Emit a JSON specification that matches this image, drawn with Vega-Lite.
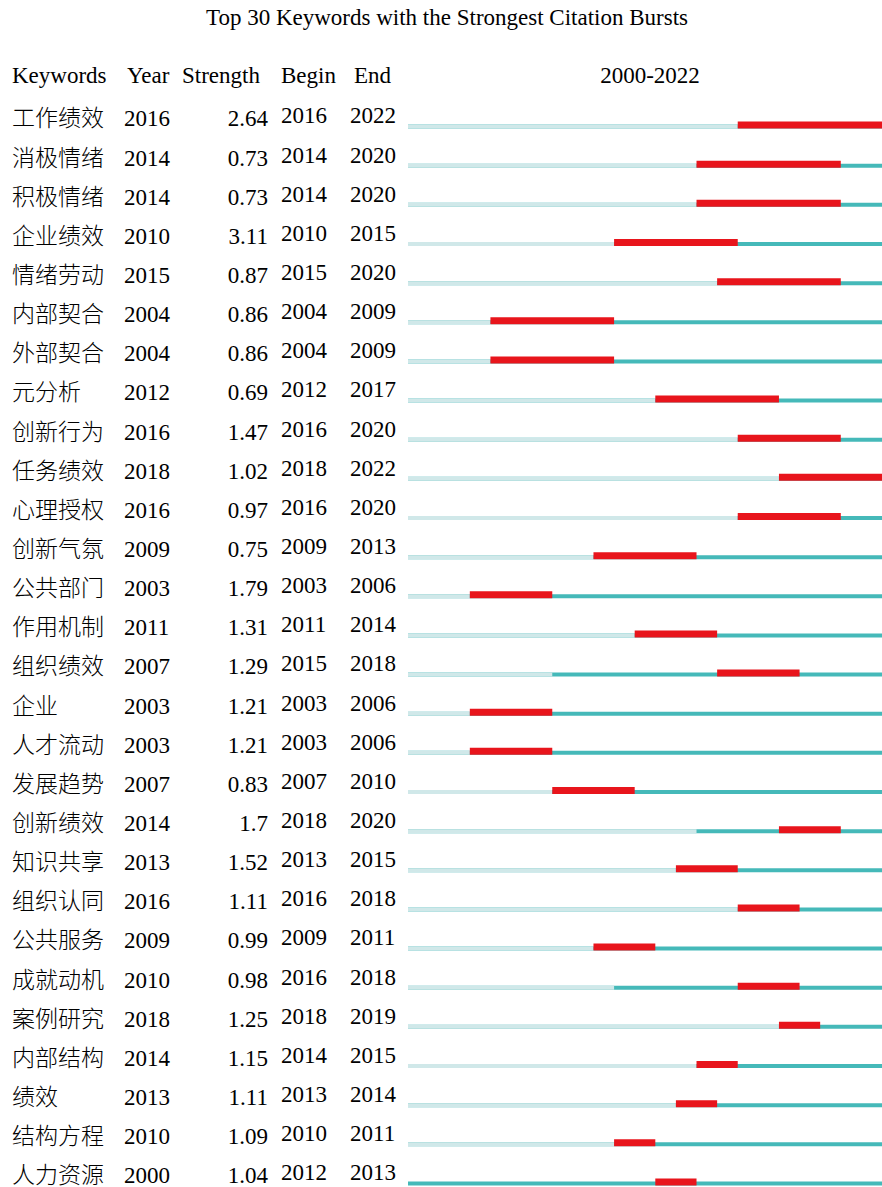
{
  "$schema": "https://vega.github.io/schema/vega-lite/v6.json",
  "padding": {"left": 12, "top": 7, "right": 0, "bottom": 0},
  "background": "white",
  "bounds": "flush",
  "title": {"text": "Top 30 Keywords with the Strongest Citation Bursts", "fontSize": 23, "font": "Liberation Serif", "fontWeight": "normal", "color": "#000000", "offset": 35, "anchor": "middle"},
  "data": {"values": [
    {"kw": "工作绩效", "year": 2016, "strength": "2.64", "begin": 2016, "end": 2022},
    {"kw": "消极情绪", "year": 2014, "strength": "0.73", "begin": 2014, "end": 2020},
    {"kw": "积极情绪", "year": 2014, "strength": "0.73", "begin": 2014, "end": 2020},
    {"kw": "企业绩效", "year": 2010, "strength": "3.11", "begin": 2010, "end": 2015},
    {"kw": "情绪劳动", "year": 2015, "strength": "0.87", "begin": 2015, "end": 2020},
    {"kw": "内部契合", "year": 2004, "strength": "0.86", "begin": 2004, "end": 2009},
    {"kw": "外部契合", "year": 2004, "strength": "0.86", "begin": 2004, "end": 2009},
    {"kw": "元分析", "year": 2012, "strength": "0.69", "begin": 2012, "end": 2017},
    {"kw": "创新行为", "year": 2016, "strength": "1.47", "begin": 2016, "end": 2020},
    {"kw": "任务绩效", "year": 2018, "strength": "1.02", "begin": 2018, "end": 2022},
    {"kw": "心理授权", "year": 2016, "strength": "0.97", "begin": 2016, "end": 2020},
    {"kw": "创新气氛", "year": 2009, "strength": "0.75", "begin": 2009, "end": 2013},
    {"kw": "公共部门", "year": 2003, "strength": "1.79", "begin": 2003, "end": 2006},
    {"kw": "作用机制", "year": 2011, "strength": "1.31", "begin": 2011, "end": 2014},
    {"kw": "组织绩效", "year": 2007, "strength": "1.29", "begin": 2015, "end": 2018},
    {"kw": "企业", "year": 2003, "strength": "1.21", "begin": 2003, "end": 2006},
    {"kw": "人才流动", "year": 2003, "strength": "1.21", "begin": 2003, "end": 2006},
    {"kw": "发展趋势", "year": 2007, "strength": "0.83", "begin": 2007, "end": 2010},
    {"kw": "创新绩效", "year": 2014, "strength": "1.7", "begin": 2018, "end": 2020},
    {"kw": "知识共享", "year": 2013, "strength": "1.52", "begin": 2013, "end": 2015},
    {"kw": "组织认同", "year": 2016, "strength": "1.11", "begin": 2016, "end": 2018},
    {"kw": "公共服务", "year": 2009, "strength": "0.99", "begin": 2009, "end": 2011},
    {"kw": "成就动机", "year": 2010, "strength": "0.98", "begin": 2016, "end": 2018},
    {"kw": "案例研究", "year": 2018, "strength": "1.25", "begin": 2018, "end": 2019},
    {"kw": "内部结构", "year": 2014, "strength": "1.15", "begin": 2014, "end": 2015},
    {"kw": "绩效", "year": 2013, "strength": "1.11", "begin": 2013, "end": 2014},
    {"kw": "结构方程", "year": 2010, "strength": "1.09", "begin": 2010, "end": 2011},
    {"kw": "人力资源", "year": 2000, "strength": "1.04", "begin": 2012, "end": 2013}
  ]},
  "spacing": 0,
  "hconcat": [
    {
      "width": 112, "height": 1096,
      "title": {"text": "Keywords", "anchor": "start"},
      "mark": {"type": "text", "align": "left", "baseline": "middle", "fontSize": 23, "fontWeight": 300, "x": 0},
      "encoding": {
        "y": {"field": "kw", "type": "nominal", "sort": null, "axis": null, "bandPosition": 0.7, "scale": {"type": "band", "paddingInner": 0, "paddingOuter": 0}},
        "text": {"field": "kw", "type": "nominal"}
      }
    },
    {
      "width": 58, "height": 1096,
      "title": {"text": "Year", "anchor": "start", "dx": 3},
      "mark": {"type": "text", "align": "left", "baseline": "middle", "fontSize": 23, "x": 0},
      "encoding": {
        "y": {"field": "kw", "type": "nominal", "sort": null, "axis": null, "bandPosition": 0.7, "scale": {"type": "band", "paddingInner": 0, "paddingOuter": 0}},
        "text": {"field": "year", "type": "nominal"}
      }
    },
    {
      "width": 98, "height": 1096,
      "title": {"text": "Strength", "anchor": "start"},
      "mark": {"type": "text", "align": "right", "baseline": "middle", "fontSize": 23, "x": 0, "dx": 86},
      "encoding": {
        "y": {"field": "kw", "type": "nominal", "sort": null, "axis": null, "bandPosition": 0.7, "scale": {"type": "band", "paddingInner": 0, "paddingOuter": 0}},
        "text": {"field": "strength", "type": "nominal"}
      }
    },
    {
      "width": 70, "height": 1096,
      "title": {"text": "Begin", "anchor": "start", "dx": 1},
      "mark": {"type": "text", "align": "left", "baseline": "middle", "fontSize": 23, "x": 0, "dx": 1, "dy": -3},
      "encoding": {
        "y": {"field": "kw", "type": "nominal", "sort": null, "axis": null, "bandPosition": 0.7, "scale": {"type": "band", "paddingInner": 0, "paddingOuter": 0}},
        "text": {"field": "begin", "type": "nominal"}
      }
    },
    {
      "width": 58, "height": 1096,
      "title": {"text": "End", "anchor": "start", "dx": 4},
      "mark": {"type": "text", "align": "left", "baseline": "middle", "fontSize": 23, "x": 0, "dy": -3},
      "encoding": {
        "y": {"field": "kw", "type": "nominal", "sort": null, "axis": null, "bandPosition": 0.7, "scale": {"type": "band", "paddingInner": 0, "paddingOuter": 0}},
        "text": {"field": "end", "type": "nominal"}
      }
    },
    {
      "width": 474, "height": 1096,
      "title": {"text": "2000-2022", "anchor": "middle", "dx": 5},
      "transform": [{"calculate": "datum.end + 1", "as": "end_edge"}],
      "layer": [
        {
          "mark": {"type": "bar", "orient": "horizontal", "color": "#45b9b9", "height": 4, "yOffset": 15},
          "encoding": {
            "y": {"field": "kw", "type": "nominal", "sort": null, "axis": null, "scale": {"type": "band", "paddingInner": 0, "paddingOuter": 0}}
          }
        },
        {
          "mark": {"type": "bar", "orient": "horizontal", "color": "#d0e8e9", "height": 4, "yOffset": 15},
          "encoding": {
            "y": {"field": "kw", "type": "nominal", "sort": null, "axis": null, "scale": {"type": "band", "paddingInner": 0, "paddingOuter": 0}},
            "x": {"field": "year", "type": "quantitative", "stack": null, "axis": null, "scale": {"domain": [2000, 2023], "nice": false, "zero": false}}
          }
        },
        {
          "mark": {"type": "bar", "orient": "horizontal", "color": "#e8151c", "height": 7, "yOffset": 13.5},
          "encoding": {
            "y": {"field": "kw", "type": "nominal", "sort": null, "axis": null, "scale": {"type": "band", "paddingInner": 0, "paddingOuter": 0}},
            "x": {"field": "begin", "type": "quantitative", "axis": null, "scale": {"domain": [2000, 2023], "nice": false, "zero": false}},
            "x2": {"field": "end_edge"}
          }
        }
      ]
    }
  ],
  "config": {
    "view": {"stroke": null},
    "font": "Liberation Serif, Noto Sans CJK SC",
    "text": {"font": "Liberation Serif, Noto Sans CJK SC", "color": "#000000"},
    "title": {"fontSize": 23, "fontWeight": "normal", "font": "Liberation Serif", "color": "#000000", "offset": 4}
  }
}
